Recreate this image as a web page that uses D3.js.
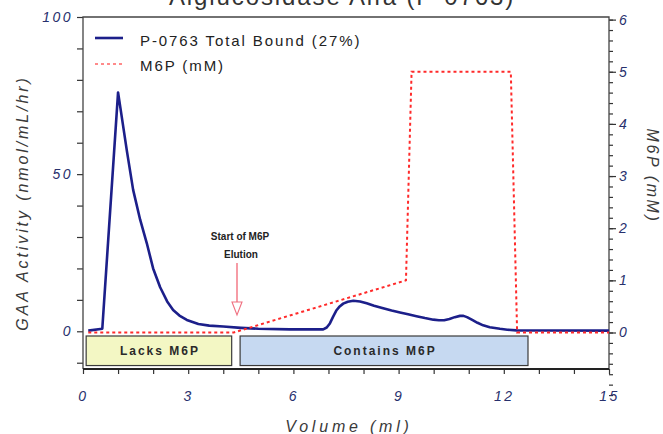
<!DOCTYPE html>
<html>
<head>
<meta charset="utf-8">
<script src="https://cdn.jsdelivr.net/npm/d3@7"></script>
<style>
  html, body { margin: 0; padding: 0; background: #fff; }
  svg { display: block; font-family: "Liberation Sans", Arial, sans-serif; }
</style>
</head>
<body>
<svg id="chart" width="663" height="434"></svg>
<script>
// GAA activity elution profile (volume in ml, activity in nmol/mL/hr)
const volume = [0.15, 0.55, 1.0, 1.25, 1.43, 1.63, 1.82, 2.0, 2.2, 2.4, 2.57, 2.75, 2.96, 3.29, 3.6, 4.0, 4.5, 5.0, 5.9,
  6.85, 6.95, 7.04, 7.13, 7.23, 7.32, 7.42, 7.55, 7.71, 7.9, 8.09, 8.3, 8.56, 8.8, 9.04, 9.27, 9.51, 9.75, 9.99,
  10.15, 10.3, 10.45, 10.6, 10.75, 10.85, 10.95, 11.1, 11.25, 11.41, 11.6, 11.89, 12.1, 12.36, 13.0, 15.0];
const gaa = [0.2, 0.8, 76, 57.5, 45, 35.5, 28, 20, 14, 9.5, 6.8, 5.0, 3.6, 2.3, 1.8, 1.5, 1.1, 0.8, 0.6,
  0.6, 1.2, 2.5, 4.6, 6.7, 7.9, 8.8, 9.4, 9.7, 9.5, 8.9, 8.1, 7.3, 6.6, 6.0, 5.4, 4.8, 4.2, 3.7,
  3.5, 3.5, 3.9, 4.5, 4.9, 4.9, 4.5, 3.6, 2.7, 1.9, 1.3, 0.8, 0.5, 0.3, 0.25, 0.2];

// M6P gradient (volume in ml, concentration in mM)
const m6pVolume = [0.15, 4.3, 9.21, 9.37, 12.2, 12.38, 15.0];
const m6pConc = [0, 0, 1, 5, 5, 0, 0];

// Axis ticks
const xTicks = d3.range(0, 16, 1);
const xLabels = [0, 3, 6, 9, 12, 15];
const leftTicks = d3.range(-10, 101, 10);
const leftLabels = [0, 50, 100];
const rightMinorTicks = d3.range(-6, 31).map(i => i / 5);
const rightLabels = [0, 1, 2, 3, 4, 5, 6];

// Fraction boxes
const fractionStart = [0.09, 4.48];
const fractionEnd = [4.24, 12.69];
const fractionLabels = ["Lacks M6P", "Contains M6P"];
const fractionFills = ["#f3f7c4", "#c6d9f1"];

const seriesNames = ["P-0763 Total Bound (27%)", "M6P (mM)"];

const svg = d3.select("#chart");
const plotLeft = 83, plotRight = 609, plotTop = 17, plotBottom = 369;

const x = d3.scaleLinear().domain([0, 15]).range([plotLeft, plotRight]);
const yL = d3.scaleLinear().domain([-12, 100]).range([plotBottom, plotTop]);
const yR = d3.scaleLinear().domain([-0.7, 6.05]).range([plotBottom, plotTop]);

const tickColor = "#27306d";
const labelFont = "italic 14px 'Liberation Sans', Arial, sans-serif";

// Title (partly above the canvas)
svg.append("text")
  .attr("x", 342).attr("y", 5)
  .attr("text-anchor", "middle")
  .style("font-size", "24px").style("letter-spacing", "1.9px")
  .attr("fill", "#333")
  .text("Alglucosidase Alfa (P-0763)");

// Left axis
const gL = svg.append("g").attr("transform", `translate(${plotLeft},0)`)
  .call(d3.axisLeft(yL).tickValues(leftTicks).tickSize(6).tickPadding(4)
    .tickFormat(d => leftLabels.includes(d) ? d : ""));
gL.select(".domain").remove();

// Right axis: minor and major ticks
const gRm = svg.append("g").attr("transform", `translate(${plotRight},0)`)
  .call(d3.axisRight(yR).tickValues(rightMinorTicks).tickSize(4).tickFormat(""));
gRm.select(".domain").remove();
const gR = svg.append("g").attr("transform", `translate(${plotRight},0)`)
  .call(d3.axisRight(yR).tickValues(rightLabels).tickSize(7).tickPadding(3).tickFormat(d3.format("d")));
gR.select(".domain").remove();

// Bottom axis
const gB = svg.append("g").attr("transform", `translate(0,${plotBottom})`)
  .call(d3.axisBottom(x).tickValues(xTicks)
    .tickSize(5).tickPadding(17)
    .tickFormat(d => xLabels.includes(d) ? d : ""));
gB.select(".domain").remove();

[gL, gR, gB].forEach(g => {
  g.selectAll("text")
    .style("font", labelFont).style("letter-spacing", "2.5px")
    .attr("fill", tickColor);
});
[gL, gRm, gR, gB].forEach(g => g.selectAll("line").attr("stroke", "#333").attr("stroke-width", 1.2));

// Frame
svg.append("path")
  .attr("d", `M${plotLeft},${plotBottom}V${plotTop}H${plotRight}V${plotBottom}`)
  .attr("fill", "none").attr("stroke", "#444").attr("stroke-width", 1.3);
svg.append("line")
  .attr("x1", plotLeft).attr("x2", plotRight).attr("y1", plotBottom).attr("y2", plotBottom)
  .attr("stroke", "#222").attr("stroke-width", 2);

// Axis titles
svg.append("text")
  .attr("transform", `translate(28,${(plotTop + plotBottom) / 2 + 10}) rotate(-90)`)
  .attr("text-anchor", "middle")
  .style("font", "italic 16px 'Liberation Sans', Arial, sans-serif")
  .style("letter-spacing", "2.9px")
  .attr("fill", "#3a3a3a")
  .text("GAA Activity (nmol/mL/hr)");

svg.append("text")
  .attr("transform", `translate(647,176) rotate(90)`)
  .attr("text-anchor", "middle")
  .style("font", "italic 16px 'Liberation Sans', Arial, sans-serif")
  .style("letter-spacing", "2.6px")
  .attr("fill", "#3a3a3a")
  .text("M6P (mM)");

svg.append("text")
  .attr("x", 349).attr("y", 432)
  .attr("text-anchor", "middle")
  .style("font", "italic 16px 'Liberation Sans', Arial, sans-serif")
  .style("letter-spacing", "3.8px")
  .attr("fill", "#3a3a3a")
  .text("Volume (ml)");

// Fraction boxes
const boxes = svg.append("g");
fractionLabels.forEach((lab, i) => {
  const x0 = x(fractionStart[i]), x1 = x(fractionEnd[i]);
  const y0 = yL(-1.5), y1 = yL(-10.9);
  boxes.append("rect")
    .attr("x", x0).attr("y", y0).attr("width", x1 - x0).attr("height", y1 - y0)
    .attr("fill", fractionFills[i]).attr("stroke", "#3a3a3a").attr("stroke-width", 1.2);
  boxes.append("text")
    .attr("x", (x0 + x1) / 2 + 1).attr("y", (y0 + y1) / 2 + 4.5)
    .attr("text-anchor", "middle")
    .style("font-size", "12px").style("font-weight", "bold").style("letter-spacing", "2px")
    .attr("fill", "#2a2a2a")
    .text(lab);
});

// Series lines
const gaaData = volume.map((v, i) => [v, gaa[i]]);
const m6pData = m6pVolume.map((v, i) => [v, m6pConc[i]]);

svg.append("path")
  .datum(gaaData)
  .attr("fill", "none").attr("stroke", "#1c1f8a").attr("stroke-width", 2.6)
  .attr("stroke-linejoin", "round")
  .attr("d", d3.line().x(d => x(d[0])).y(d => yL(d[1])));

svg.append("path")
  .datum(m6pData)
  .attr("fill", "none").attr("stroke", "#ff2a2a").attr("stroke-width", 2)
  .attr("stroke-dasharray", "3,3")
  .attr("d", d3.line().x(d => x(d[0])).y(d => yR(d[1])));

// Annotation: start of M6P elution
const ax = 237;
svg.append("text").attr("x", 240).attr("y", 240)
  .attr("text-anchor", "middle").style("font-size", "10px").style("font-weight", "bold")
  .attr("fill", "#222").text("Start of M6P");
svg.append("text").attr("x", 241).attr("y", 258)
  .attr("text-anchor", "middle").style("font-size", "10px").style("font-weight", "bold")
  .attr("fill", "#222").text("Elution");
svg.append("line").attr("x1", ax).attr("x2", ax).attr("y1", 263).attr("y2", 302)
  .attr("stroke", "#f05a6a").attr("stroke-width", 1.2);
svg.append("path")
  .attr("d", `M${ax - 5},302L${ax + 5},302L${ax},315Z`)
  .attr("fill", "#fff").attr("stroke", "#f07080").attr("stroke-width", 1.1);

// Legend
const legend = svg.append("g");
legend.append("line").attr("x1", 95).attr("x2", 123).attr("y1", 38).attr("y2", 38)
  .attr("stroke", "#1c1f8a").attr("stroke-width", 2.6);
legend.append("line").attr("x1", 95).attr("x2", 123).attr("y1", 64).attr("y2", 64)
  .attr("stroke", "#ff8a8a").attr("stroke-width", 2).attr("stroke-dasharray", "3,3");
seriesNames.forEach((name, i) => {
  legend.append("text").attr("x", 140).attr("y", 46 + i * 25)
    .style("font-size", "15px").style("letter-spacing", "1.9px")
    .attr("fill", "#222").text(name);
});
</script>
</body>
</html>
